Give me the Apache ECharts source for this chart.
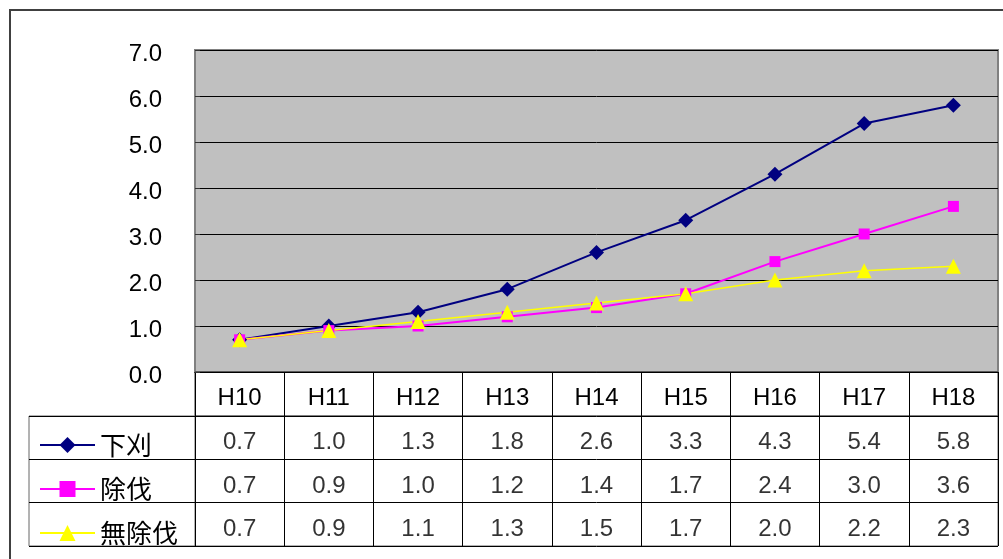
<!DOCTYPE html>
<html>
<head>
<meta charset="utf-8">
<script src="https://cdn.jsdelivr.net/npm/echarts@6/dist/echarts.min.js"></script>
<style>
  html, body { margin: 0; background: #fff; }
  #chart { width: 1003px; height: 559px; }
</style>
</head>
<body>
<div id="chart"></div>
<script>
  // データ
  const years = ['H10', 'H11', 'H12', 'H13', 'H14', 'H15', 'H16', 'H17', 'H18'];
  const names = ['下刈', '除伐', '無除伐'];
  const shitagari = [0.7, 1.0, 1.3, 1.8, 2.6, 3.3, 4.3, 5.4, 5.8];
  const jobatsu = [0.7, 0.9, 1.0, 1.2, 1.4, 1.7, 2.4, 3.0, 3.6];
  const mujobatsu = [0.7, 0.9, 1.1, 1.3, 1.5, 1.7, 2.0, 2.2, 2.3];
  const yMin = 0, yMax = 7, yStep = 1;

  const font = '"Liberation Sans", "Noto Sans CJK JP", sans-serif';
  const rows = [shitagari, jobatsu, mujobatsu];

  // 表のセル（列, 行, 値）
  let cells = [];
  rows.forEach(function (vals, r) {
    vals.forEach(function (v, c) {
      cells.push([c, r, v]);
    });
  });

  let chart = echarts.init(document.getElementById('chart'));
  chart.setOption({
    animation: false,
    textStyle: { fontFamily: font },
    graphic: [{
      type: 'rect',
      shape: { x: 10, y: 10, width: 1100, height: 600 },
      style: { fill: 'none', stroke: '#404040', lineWidth: 2 },
      z: -10
    }],
    legend: {
      data: names,
      orient: 'vertical',
      left: 34,
      top: 427,
      itemWidth: 55,
      itemHeight: 20,
      itemGap: 18,
      textStyle: { fontSize: 26, lineHeight: 26, color: '#000', fontFamily: '"Noto Sans CJK JP", sans-serif' }
    },
    grid: [
      // グラフ本体
      { left: 195, right: 5, top: 50, height: 322, show: true, backgroundColor: '#c0c0c0', borderColor: '#808080', borderWidth: 2 },
      // 見出し行
      { left: 195, right: 5, top: 372, height: 44, show: true, backgroundColor: '#fff', borderColor: '#333', borderWidth: 1 },
      // 数値表
      { left: 195, right: 5, top: 416, height: 130, show: true, backgroundColor: '#fff', borderColor: '#666', borderWidth: 1 },
      // 凡例列
      { left: 29, width: 166, top: 416, height: 130, show: true, backgroundColor: '#fff', borderColor: '#666', borderWidth: 1 }
    ],
    xAxis: [
      {
        gridIndex: 0, type: 'category', data: years,
        axisLine: { lineStyle: { color: '#000', width: 1 } },
        axisTick: { show: false }, axisLabel: { show: false }
      },
      {
        gridIndex: 1, type: 'category', data: years,
        axisLine: { show: false }, axisTick: { show: false },
        axisLabel: { inside: true, margin: 18, verticalAlign: 'middle', fontSize: 24, color: '#000', fontFamily: font },
        splitLine: { show: true, lineStyle: { color: '#000', width: 1 } }
      },
      {
        gridIndex: 2, type: 'category', data: years,
        axisLine: { show: false }, axisTick: { show: false }, axisLabel: { show: false },
        splitLine: { show: true, lineStyle: { color: '#000', width: 1 } }
      },
      {
        gridIndex: 3, type: 'value', show: false
      }
    ],
    yAxis: [
      {
        gridIndex: 0, type: 'value', min: yMin, max: yMax, interval: yStep,
        axisLine: { show: false },
        axisTick: { show: true, inside: true, length: 5, lineStyle: { color: '#333' } },
        axisLabel: {
          margin: 33, fontSize: 24, color: '#000', fontFamily: font,
          verticalAlign: 'top', lineHeight: 8,
          formatter: function (v) { return v.toFixed(1); }
        },
        splitLine: { show: true, lineStyle: { color: '#000', width: 1 } }
      },
      { gridIndex: 1, type: 'value', show: false },
      {
        gridIndex: 2, type: 'category', data: names, inverse: true,
        axisLine: { show: false }, axisTick: { show: false }, axisLabel: { show: false },
        splitLine: { show: true, lineStyle: { color: '#000', width: 1 } }
      },
      {
        gridIndex: 3, type: 'category', data: names, inverse: true,
        axisLine: { show: false }, axisTick: { show: false }, axisLabel: { show: false },
        splitLine: { show: true, lineStyle: { color: '#000', width: 1 } }
      }
    ],
    series: [
      {
        name: names[0], type: 'line', data: shitagari,
        symbol: 'diamond', symbolSize: 15,
        itemStyle: { color: '#000080' }, lineStyle: { color: '#000080', width: 2 }
      },
      {
        name: names[1], type: 'line', data: jobatsu,
        symbol: 'rect', symbolSize: 11,
        itemStyle: { color: '#ff00ff' }, lineStyle: { color: '#ff00ff', width: 2 }
      },
      {
        name: names[2], type: 'line', data: mujobatsu,
        symbol: 'triangle', symbolSize: 15,
        itemStyle: { color: '#ffff00' }, lineStyle: { color: '#ffff00', width: 1.5 }
      },
      {
        type: 'scatter', xAxisIndex: 2, yAxisIndex: 2, data: cells,
        symbolSize: 1, itemStyle: { color: 'transparent' }, silent: true,
        label: {
          show: true, position: 'inside', offset: [0, 5], fontSize: 24, color: '#000', fontFamily: font,
          formatter: function (p) { return p.value[2].toFixed(1); }
        }
      }
    ]
  });
</script>
</body>
</html>
